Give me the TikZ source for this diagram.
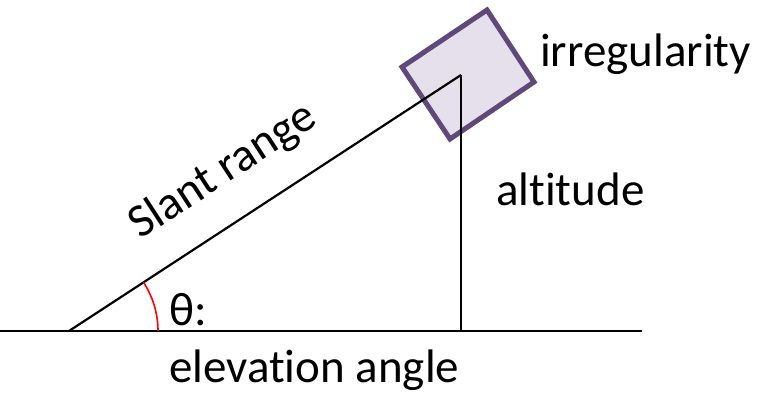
\documentclass[tikz,border=0pt]{standalone}
\usepackage{fontspec}
\setmainfont{Carlito}[Ligatures=NoCommon]
\definecolor{boxfill}{HTML}{E5E0EC}
\definecolor{boxline}{HTML}{5F497A}
\begin{document}
\begin{tikzpicture}[x=1pt,y=1pt,
  lbl/.style={inner sep=0pt,anchor=base west,font=\fontsize{47}{56}\selectfont},
  ln/.style={line width=2.2pt,black}]
\useasboundingbox (0,0) rectangle (759,394);
% irregularity box
\coordinate (r1) at (487,384);
\coordinate (r2) at (534,312);
\coordinate (r3) at (450,255);
\coordinate (r4) at (402,327);
\draw[line width=5pt,boxline,fill=boxfill,line join=miter] (r1) -- (r2) -- (r3) -- (r4) -- cycle;
% geometry
\coordinate (g0) at (0,63);
\coordinate (g1) at (642,63);
\coordinate (A) at (69,63);
\coordinate (P) at (461,319);
\coordinate (F) at (461,63);
\draw[ln] (g0) -- (g1);
\draw[ln] (A) -- (P);
\draw[ln] (P) -- (F);
\coordinate (arcstart) at (158,63);
\draw[red,line width=1.6pt] (arcstart) arc[start angle=0,end angle=33.15,radius=89];
% labels
\node[lbl] (irr) at (540,327) {irregularity};
\node[lbl] (alt) at (496,189) {altitude};
\node[lbl] (theta) at (169,69) {θ:};
\node[lbl] (elev) at (169,12) {elevation angle};
\node[lbl,rotate=33] (slant) at (140,154) {Slant range};
\end{tikzpicture}
\end{document}
